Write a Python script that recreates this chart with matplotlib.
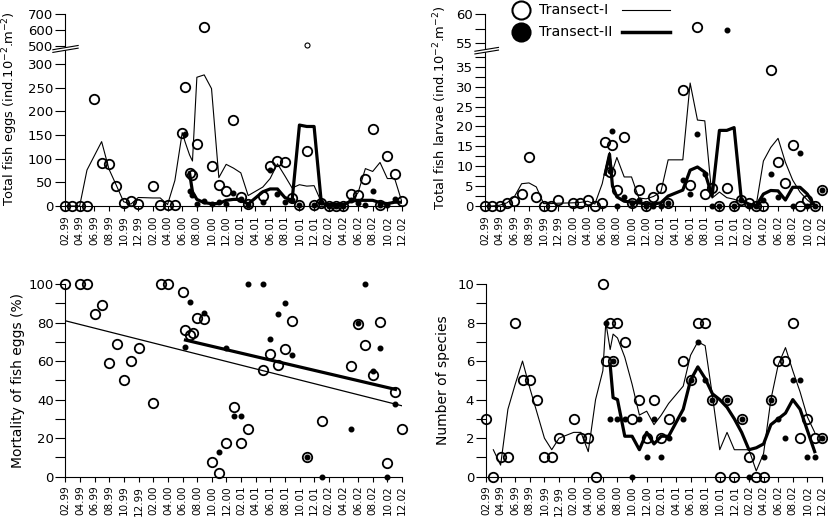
import numpy as np
import matplotlib
matplotlib.use("Agg")
import matplotlib.pyplot as plt
from matplotlib.lines import Line2D
from matplotlib.patches import Polygon

# x position = months since 02.1999 (extra fortnightly samples in June/July 2000)
tick_labels = ["02.99", "04.99", "06.99", "08.99", "10.99", "12.99", "02.00", "04.00",
               "06.00", "08.00", "10.00", "12.00", "02.01", "04.01", "06.01", "08.01",
               "10.01", "12.01", "02.02", "04.02", "06.02", "08.02", "10.02", "12.02"]

# sampling dates, transect I and transect II
m1 = [0, 1, 2, 3, 4, 5, 6, 7, 8, 9, 10, 12, 13, 14, 15, 16, 16.4, 17, 17.4,
      18, 19, 20, 21, 22, 23, 24, 25, 27, 28, 29, 30, 31, 32, 33, 34, 35, 36,
      37, 38, 39, 40, 41, 42, 43, 44, 45, 46]
m2 = [16.4, 17, 17.4, 18, 19, 20, 21, 22, 23, 24, 25, 27, 28, 29, 30, 31, 32,
      33, 34, 35, 36, 37, 38, 39, 40, 41, 42, 43, 44, 45, 46]
nan = np.nan

# total fish eggs
eggs1 = [0, 0, 0, 1, 226, 91, 88, 43, 7, 10, 4, 43, 3, 3, 3, 155, 252, 70, 66,
         132, 621, 84, 44, 31, 182, 19, 4, 22, 85, 96, 92, 16, 2, 117, 2, 7, 0,
         0, 0, 25, 23, 56, 163, 3, 106, 67, 10]
eggs2 = [153, 32, 24, 4, 11, 5, 8, 5, 27, 15, 3, 9, 76, 25, 9, 12, 3, nan, 3, 9,
         0, 0, 0, 13, 6, 3, 32, 3, 3, 14, nan]
eggs2_out_m = [33]
eggs2_out = [505]
eggs_line1 = [0, 0, 0, 76, 106, 136, 78, 44, 9, 4, 18, 17, 17, 3, 54, 155, 135, 108, 95,
              272, 277, 248, 60, 88, 80, 70, 22, 40, 58, 89, 64, 38, 45, 42, 43, 8, 0,
              0, 0, 10, 28, 79, 73, 92, 58, 58, 8]
eggs_line2 = [nan, 70, 30, 14, 7, 5, 5, 12, 14, 14, 4, 30, 36, 36, 18, 12, 171, 168,
              168, 5, 3, 3, 3, 10, 12, 12, 12, 7, 5, 8, 8]

# total fish larvae
larv1 = [0, 0, 0, 0.8, 1.3, 2.9, 12.3, 2.3, 0, 0, 1.4, 0.8, 0.8, 1.4, 0, 0.8, 16.0, 8.6, 15.3,
         4, 17.4, 0.8, 4, 0, 2.3, 4.6, 0.8, 29.1, 5.2, 57.8, 3, 4.4, 0, 4.6, 0, 1.5, 0.8,
         0, 0, 34.2, 11, 5.9, 15.3, 0, 1.5, 0, 4]
larv2 = [nan, 8.8, 18.9, 0, 2.3, 0.8, 1.5, 0, 0, 0, 0.8, 6.6, 2.9, 18.2, 8.1, 0, 0,
         57.3, 0, 1.5, 0, 0, 1.4, 8.1, 2.3, nan, 0, 13.2, 0, 0, 4]
larv_line1 = [0, 0, 0.2, 0.8, 2.3, 5.6, 5.8, 4.8, 0.6, 0.6, 0.7, 0.8, 0.9, 1.2, 0.5, 5.6, 9, 13.5, 8.8,
              12.2, 7.3, 7.3, 2, 1.8, 2.4, 3.5, 11.6, 11.6, 30.9, 21.6, 21.4, 2, 3.5, 2.1, 1.7, 1,
              0.5, 0, 11.3, 14.7, 17, 11, 6.5, 3.5, 1.5, 0, nan]
larv_line2 = [8, 13, 5, 2.3, 1.2, 1, 0.8, 0.5, 0.5, 0.8, 2.5, 4, 9, 9.8, 8.5, 2.5, 19,
              19, 19.7, 1.4, 0.5, 0, 3, 3.9, 3.8, 1.5, 4.7, 4.7, 3, 0, nan]

# mortality of fish eggs (%)
mort1_m = [0, 2, 3, 4, 5, 6, 7, 8, 9, 10, 12, 13, 14, 16, 16.4, 17, 17.4, 18, 19, 20,
           21, 22, 23, 24, 25, 27, 28, 29, 30, 31, 33, 35, 39, 40, 41, 42, 43, 44, 45, 46]
mort1 = [100, 100, 100, 84.3, 88.9, 58.8, 69, 50.2, 60, 66.6, 38, 100, 100, 95.8, 76, 73.5,
         74.4, 82.2, 81.7, 7.4, 1.7, 17.3, 36, 17.6, 25, 55.2, 63.5, 58.1, 66.4, 81, 10.2,
         28.7, 57.6, 79.4, 68.2, 52.9, 80.1, 7.3, 43.9, 25]
mort2_m = [16.4, 17, 19, 21, 22, 23, 24, 25, 27, 28, 29, 30, 31, 33, 35, 39, 40, 41, 42,
           43, 44, 45]
mort2 = [67.5, 90.5, 84.8, 12.6, 66.6, 31.7, 31.7, 100, 100, 71.3, 84.4, 90, 63.1, 10.2,
         0, 25, 80, 100, 54.7, 66.6, 0, 37.5]
trend1_m = [0, 46.1]
trend1 = [80.9, 36.7]
trend2_m = [16.4, 45.1]
trend2 = [70.9, 45.3]

# number of species
spec1 = [3, 0, 1, 1, 8, 5, 5, 4, 1, 1, 2, 3, 2, 2, 0, 10, 6, 8, 6, 8, 7, 3, 4, 2, 4, 2, 3,
         6, 5, 8, 8, 4, 0, 4, 0, 3, 1, 0, 0, 4, 6, 6, 8, 2, 3, 2, 2]
spec2 = [8, 3, 6, 3, 3, 0, 3, 1, 3, 1, 2, 3, 5, 7, 5, 4, nan, 4, nan, 3, 0, nan, 1, 4, 3,
         2, 5, 5, 1, 1, 2]
spec_line1 = [nan, 1.4, 0.6, 3.5, 4.8, 6.0, 4.6, 3.3, 2, 1.4, 2, 2.3, 2.3, 1.3, 4, 5.5, 8, 6.6, 7.4,
              7.2, 6.2, 4.8, 3.2, 3.4, 2.7, 3.2, 3.8, 4.7, 6.3, 7, 6.8, 4.2, 1.4, 2.3, 1.4,
              1.4, 1.4, 0.3, 1.2, 4, 5.8, 6.7, 5.5, 4.4, 3.1, 2.3, nan]
spec_line2 = [nan, 5.8, 4.1, 4, 2.1, 2.1, 1.4, 2.3, 1.7, 2.1, 2.1, 3.5, 5, 5.7, 5.1, 4.3,
              4.0, 3.6, 3, 2.3, 1.4, 1.5, 1.7, 2.7, 3, 3.3, 4, 3.5, 2.4, 1.3, nan]


def pts(m, v):
    m = np.asarray(m, float)
    v = np.asarray(v, float)
    ok = ~np.isnan(v)
    return m[ok], v[ok]


def broken(src, dst):
    # piecewise linear y mapping for the axis break
    src = np.asarray(src, float)
    dst = np.asarray(dst, float)

    def mk(a, b):
        s0 = (b[1] - b[0]) / (a[1] - a[0])
        s1 = (b[-1] - b[-2]) / (a[-1] - a[-2])

        def f(v):
            v = np.asarray(v, float)
            out = np.interp(v, a, b)
            out = np.where(v < a[0], b[0] + (v - a[0]) * s0, out)
            out = np.where(v > a[-1], b[-1] + (v - a[-1]) * s1, out)
            return out
        return f
    return mk(src, dst), mk(dst, src)


def style(ax):
    for s in ["top", "right"]:
        ax.spines[s].set_visible(False)
    for s in ["left", "bottom"]:
        ax.spines[s].set_linewidth(0.8)
    ax.set_xlim(0, 46)
    ax.set_xticks(np.arange(0, 47, 2))
    ax.set_xticklabels(tick_labels, rotation=90)
    ax.tick_params(axis="x", length=3.5, width=0.8, pad=3, labelsize=7.5)
    ax.tick_params(axis="y", which="both", length=7, width=0.8, pad=1.5, labelsize=9.5)


def series(ax, l1, l2, v1, v2, ma=m1, mb=m2):
    ax.plot(*pts(m1, l1), color="k", lw=0.8, zorder=2)
    ax.plot(*pts(m2, l2), color="k", lw=2.3, zorder=2)
    ax.plot(*pts(ma, v1), "o", ms=6.8, mfc="none", mec="k", mew=1.3, clip_on=False, zorder=4)
    ax.plot(*pts(mb, v2), "o", ms=3.3, color="k", clip_on=False, zorder=5)


def break_mark(ax, x0, x1, y0, y1, gap):
    ax.add_patch(Polygon([[x0, y0], [x1, y1], [x1, y1 + gap], [x0, y0 + gap]],
                         closed=True, facecolor="white", edgecolor="none",
                         transform=ax.transAxes, clip_on=False, zorder=6))
    for g in (0, gap):
        ax.plot([x0, x1], [y0 + g, y1 + g], color="k", lw=0.8,
                transform=ax.transAxes, clip_on=False, zorder=7)


fig = plt.figure(figsize=(8.29, 5.19), dpi=100)
W, H = 829.0, 519.0
ax1 = fig.add_axes([65 / W, 1 - 206 / H, 337 / W, 192 / H])
ax2 = fig.add_axes([485 / W, 1 - 206 / H, 337 / W, 192 / H])
ax3 = fig.add_axes([65.5 / W, 1 - 476.7 / H, 336.5 / W, 192.7 / H])
ax4 = fig.add_axes([486 / W, 1 - 476.7 / H, 336 / W, 192.7 / H])

# eggs
f, g = broken([0, 300, 500, 700], [0, 142, 160, 192])
ax1.set_yscale("function", functions=(f, g))
series(ax1, eggs_line1, eggs_line2, eggs1, eggs2)
ax1.plot(eggs2_out_m, eggs2_out, "o", ms=3.6, mfc="none", mec="k", mew=0.8, zorder=4)
style(ax1)
ax1.set_ylim(0, 700)
yt = [0, 50, 100, 150, 200, 250, 300, 500, 600, 700]
ax1.set_yticks(yt)
ax1.set_yticklabels([str(v) for v in yt])
ax1.set_ylabel(r"Total fish eggs (ind.10$^{-2}$.m$^{-2}$)", fontsize=9.4, va="center")
ax1.yaxis.set_label_coords(-0.163, 0.51)
break_mark(ax1, -0.036, 0.039, 0.800, 0.822, 0.014)

# larvae
f, g = broken([0, 37.5, 55, 60], [0, 149, 162.4, 191.7])
ax2.set_yscale("function", functions=(f, g))
series(ax2, larv_line1, larv_line2, larv1, larv2)
style(ax2)
ax2.set_ylim(0, 60)
yt = [0, 5, 10, 15, 20, 25, 30, 35, 55, 60]
ax2.set_yticks(yt)
ax2.set_yticklabels([str(v) for v in yt])
ax2.set_yticks([2.5, 7.5, 12.5, 17.5, 22.5, 27.5, 32.5, 37.5, 57.5], minor=True)
ax2.set_ylabel(r"Total fish larvae (ind.10$^{-2}$.m$^{-2}$)", fontsize=9.4, va="center")
ax2.yaxis.set_label_coords(-0.134, 0.51)
break_mark(ax2, -0.03, 0.04, 0.792, 0.812, 0.014)

# mortality
ax3.plot(trend1_m, trend1, color="k", lw=0.9, zorder=2)
ax3.plot(trend2_m, trend2, color="k", lw=2.3, zorder=2)
ax3.plot(mort1_m, mort1, "o", ms=6.8, mfc="none", mec="k", mew=1.3, clip_on=False, zorder=4)
ax3.plot(mort2_m, mort2, "o", ms=3.3, color="k", clip_on=False, zorder=5)
style(ax3)
ax3.set_ylim(0, 100)
ax3.set_yticks(np.arange(0, 101, 20))
ax3.set_yticks(np.arange(10, 100, 20), minor=True)
ax3.set_ylabel("Mortality of fish eggs (%)", fontsize=10, va="center")
ax3.yaxis.set_label_coords(-0.141, 0.5)

# species
series(ax4, spec_line1, spec_line2, spec1, spec2)
style(ax4)
ax4.set_ylim(0, 10)
ax4.set_yticks(np.arange(0, 11, 2))
ax4.set_yticks(np.arange(1, 10, 2), minor=True)
ax4.set_ylabel("Number of species", fontsize=10, va="center")
ax4.yaxis.set_label_coords(-0.129, 0.5)

# legend, drawn by hand: marker, name, line
tf = fig.transFigure
for yy, face, lw, name in [(10, "white", 0.8, "Transect-I"), (32, "black", 2.5, "Transect-II")]:
    fig.add_artist(Line2D([521 / W], [1 - yy / H], marker="o", ms=13, mfc=face, mec="k",
                          mew=1.5, transform=tf))
    fig.text(539 / W, 1 - yy / H, name, fontsize=10.2, va="center", ha="left")
    fig.add_artist(Line2D([622 / W, 670 / W], [1 - yy / H] * 2, color="k", lw=lw, transform=tf))

fig.savefig("out.png", dpi=100)
